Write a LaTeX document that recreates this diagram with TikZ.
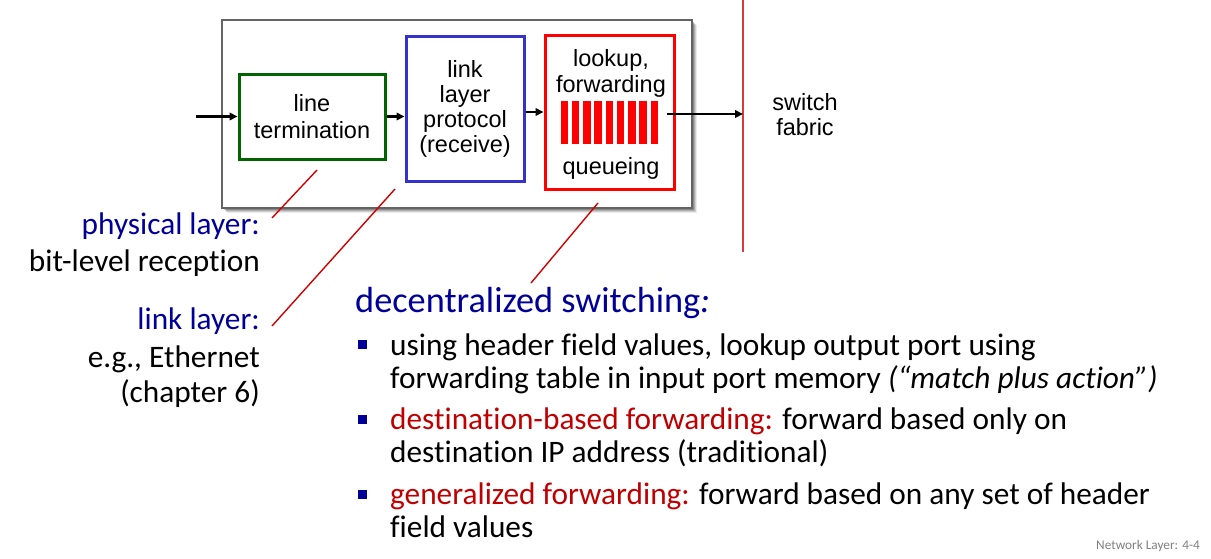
\documentclass[tikz,border=0pt]{standalone}
\usepackage{fontspec}
\setmainfont{Carlito}[Ligatures={NoCommon,NoRequired,NoContextual}]
\newfontfamily\arialf{Liberation Sans}
\usetikzlibrary{arrows.meta}
\definecolor{hdblue}{RGB}{0,0,153}
\definecolor{hlred}{RGB}{192,0,0}
\definecolor{ltgreen}{RGB}{0,100,0}
\definecolor{llpblue}{RGB}{51,51,204}
\definecolor{portgray}{RGB}{100,100,100}
\definecolor{calloutred}{RGB}{210,0,0}
\definecolor{fabricred}{RGB}{215,60,60}
\definecolor{footgray}{RGB}{128,128,128}
\begin{document}
\begin{tikzpicture}[x=1pt,y=-1pt,
  boxtxt/.style={font=\arialf\fontsize{23.5}{27}\selectfont, inner sep=0pt, anchor=base},
  body/.style={font=\fontsize{31.3}{33}\selectfont, inner sep=0pt, anchor=base west},
  lbl/.style={font=\fontsize{31.3}{33}\selectfont, inner sep=0pt, anchor=base east},
  stage/.style={draw, line width=3pt, fill=white, inner sep=0pt},
  flow/.style={line width=2.4pt, -{Triangle[length=8pt,width=7.5pt]}},
  callout/.style={draw=calloutred, line width=1.4pt},
  bulletsq/.style={fill=hdblue, minimum size=9pt, inner sep=0pt}
]
\useasboundingbox (0,0) rectangle (1211,558);

% input port enclosure with a soft shadow
\foreach \s/\o in {5/0.08,4/0.12,3/0.16,2/0.2}
  \fill[black, opacity=\o] (222+\s,20+\s) rectangle (692+\s,208+\s);
\node[draw=portgray, line width=2.2pt, fill=white, minimum width=470pt,
      minimum height=188pt, inner sep=0pt] (port) at (457,114) {};

% processing stages
\node[stage, draw=ltgreen, minimum width=146pt, minimum height=85pt] (lt) at (312,116.5) {};
\node[stage, draw=llpblue, minimum width=118pt, minimum height=145pt] (llp) at (465,108.5) {};
\node[stage, draw=red, minimum width=129pt, minimum height=154pt] (lfq) at (609.5,112) {};

\node[boxtxt] (lt1) at (312,111) {line};
\node[boxtxt] (lt2) at (312,138) {termination};
\node[boxtxt] (llp1) at (465,77) {link};
\node[boxtxt] (llp2) at (465,102) {layer};
\node[boxtxt] (llp3) at (465,127) {protocol};
\node[boxtxt] (llp4) at (465,152) {(receive)};
\node[boxtxt] (lfq1) at (611,66) {lookup,};
\node[boxtxt] (lfq2) at (611,92) {forwarding};
\node[boxtxt] (lfq3) at (611,174) {queueing};

% queue of packets
\foreach \i in {0,...,8}
  \fill[red] (560.5+11.25*\i,101) rectangle ++(7.5,43);

% switch fabric
\coordinate (fabtop) at (743,0);
\coordinate (fabbot) at (743,252);
\draw[fabricred, line width=1.2pt] (fabtop) -- (fabbot);
\node[boxtxt] (sf1) at (805,110) {switch};
\node[boxtxt] (sf2) at (805,135) {fabric};

% datagram flow
\coordinate (in) at (196,116.5);
\coordinate (out) at (667,114);
\draw[flow] (in) -- (in -| lt.west);
\draw[flow] (lt.east) -- (lt.east -| llp.west);
\draw[flow] (llp.east |- lfq.west) -- (lfq.west);
\draw[flow] (out) -- (out -| fabtop);

% layer labels
\node[lbl, text=hdblue] (phy) at (260,234) {physical layer:};
\node[lbl] (phy2) at (260,271) {bit-level reception};
\node[lbl, text=hdblue] (lnk) at (260,329) {link layer:};
\node[lbl] (lnk2) at (260,367) {e.g., Ethernet};
\node[lbl] (lnk3) at (260,402) {(chapter 6)};

% callouts
\coordinate (c1a) at (317,170);
\coordinate (c1b) at (272,218);
\coordinate (c2a) at (395,189);
\coordinate (c2b) at (272,326);
\coordinate (c3a) at (598,203);
\coordinate (c3b) at (531,283);
\draw[callout] (c1a) -- (c1b);
\draw[callout] (c2a) -- (c2b);
\draw[callout] (c3a) -- (c3b);

% decentralized switching
\node[body, font=\fontsize{36.3}{40}\selectfont, text=hdblue] (hd) at (355,312)
  {decentralized switching\textit{:}};

\node[bulletsq] (b1) at (362,344.5) {};
\node[body] (t1a) at (390,355) {using header field values, lookup output port using};
\node[body] (t1b) at (390,388) {forwarding table in input port memory \textit{(“match plus action”)}};
\node[bulletsq] (b2) at (362,419) {};
\node[body] (t2a) at (390,429) {\textcolor{hlred}{destination-based forwarding:} forward based only on};
\node[body] (t2b) at (390,462) {destination IP address (traditional)};
\node[bulletsq] (b3) at (362,494) {};
\node[body] (t3a) at (390,504) {\textcolor{hlred}{generalized forwarding:} forward based on any set of header};
\node[body] (t3b) at (390,537) {field values};

\node[inner sep=0pt, anchor=base east, text=footgray, font=\fontsize{13.3}{15}\selectfont]
  (foot) at (1200,549) {Network Layer: 4-4};
\end{tikzpicture}
\end{document}
